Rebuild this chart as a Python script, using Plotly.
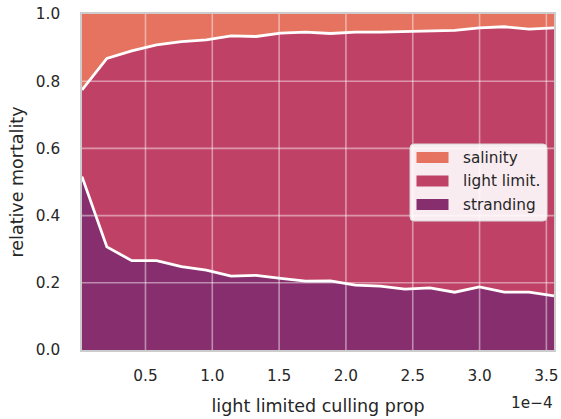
import numpy as np
import plotly.graph_objects as go

# x values in units of 1e-4
x_e4 = [0.025, 0.211, 0.397, 0.583, 0.769, 0.955, 1.141, 1.327, 1.512, 1.698,
        1.884, 2.070, 2.256, 2.442, 2.628, 2.814, 2.999, 3.185, 3.371, 3.557]

stranding = [0.516, 0.307, 0.266, 0.266, 0.248, 0.238, 0.220, 0.222, 0.213, 0.205,
             0.206, 0.193, 0.190, 0.181, 0.185, 0.172, 0.188, 0.172, 0.172, 0.161]
light_limit = [0.258, 0.561, 0.624, 0.642, 0.670, 0.685, 0.715, 0.711, 0.730, 0.741,
               0.736, 0.753, 0.756, 0.766, 0.763, 0.779, 0.771, 0.790, 0.783, 0.798]
salinity = [0.226, 0.132, 0.110, 0.092, 0.082, 0.077, 0.065, 0.067, 0.057, 0.054,
            0.058, 0.054, 0.054, 0.053, 0.052, 0.049, 0.041, 0.038, 0.045, 0.041]

series_names = ["stranding", "light limit.", "salinity"]
series_colors = ["rgb(135,47,110)", "rgb(192,65,102)", "rgb(229,115,96)"]

x_tick_vals = [0.5, 1.0, 1.5, 2.0, 2.5, 3.0, 3.5]
y_tick_vals = [0.0, 0.2, 0.4, 0.6, 0.8, 1.0]

FONT = "DejaVu Sans"
TXT = "#262626"

W, H = 561, 419
ML, MR, MT, MB = 82, 7, 14, 69
PW, PH = W - ML - MR, H - MT - MB


def px2x(px):
    return (px - ML) / PW


def px2y(py):
    return (H - MB - py) / PH


fig = go.Figure()
for name, vals, col in zip(series_names, [stranding, light_limit, salinity], series_colors):
    fig.add_trace(go.Scatter(
        x=x_e4, y=vals, name=name, stackgroup="one", mode="lines",
        line=dict(width=0, color=col), fillcolor=col, hoverinfo="skip",
        showlegend=False))

# white boundary lines between areas
cum1 = np.array(stranding)
cum2 = cum1 + np.array(light_limit)
for c in [cum1, cum2]:
    fig.add_trace(go.Scatter(x=x_e4, y=c, mode="lines", showlegend=False,
                             line=dict(color="white", width=2.8), hoverinfo="skip"))

shapes = []
grid_col = "rgba(255,255,255,0.45)"
for xv in x_tick_vals:
    shapes.append(dict(type="line", xref="x", yref="y", x0=xv, x1=xv, y0=0, y1=1,
                       line=dict(color=grid_col, width=1.6), layer="above"))
for yv in y_tick_vals[1:-1]:
    shapes.append(dict(type="line", xref="paper", yref="y", x0=0, x1=1, y0=yv, y1=yv,
                       line=dict(color=grid_col, width=1.6), layer="above"))

# legend (box with rounded corners, swatches, labels)
bx0, bx1, by0, by1, r = 410, 547, 144, 221, 4
X = lambda p: px2x(p)
Y = lambda p: px2y(p)
path = (f"M {X(bx0 + r)},{Y(by0)} L {X(bx1 - r)},{Y(by0)} Q {X(bx1)},{Y(by0)} {X(bx1)},{Y(by0 + r)} "
        f"L {X(bx1)},{Y(by1 - r)} Q {X(bx1)},{Y(by1)} {X(bx1 - r)},{Y(by1)} "
        f"L {X(bx0 + r)},{Y(by1)} Q {X(bx0)},{Y(by1)} {X(bx0)},{Y(by1 - r)} "
        f"L {X(bx0)},{Y(by0 + r)} Q {X(bx0)},{Y(by0)} {X(bx0 + r)},{Y(by0)} Z")
shapes.append(dict(type="path", xref="paper", yref="paper", path=path,
                   fillcolor="rgba(255,255,255,0.9)", line=dict(color="#d9d9d9", width=1),
                   layer="above"))

annotations = []
row_y = [157.5, 181, 204.5]
legend_order = [2, 1, 0]  # salinity, light limit., stranding
for ry, idx in zip(row_y, legend_order):
    shapes.append(dict(type="rect", xref="paper", yref="paper",
                       x0=X(416.5), x1=X(448.5), y0=Y(ry - 5.5), y1=Y(ry + 5.5),
                       fillcolor=series_colors[idx], line=dict(width=0), layer="above"))
    annotations.append(dict(text=series_names[idx], xref="paper", yref="paper",
                            x=X(460.5), y=Y(ry), xanchor="left", yanchor="middle",
                            showarrow=False,
                            font=dict(size=15.3, family=FONT, color=TXT)))

annotations.append(dict(text="1e\u22124", xref="paper", yref="paper", x=1.0 + 1 / PW, y=Y(403),
                        xanchor="right", yanchor="middle", showarrow=False,
                        font=dict(size=15.3, family=FONT, color=TXT)))

fig.update_layout(
    width=W, height=H,
    margin=dict(l=ML, r=MR, t=MT, b=MB),
    paper_bgcolor="white", plot_bgcolor="white",
    font=dict(family=FONT, color=TXT, size=15),
    shapes=shapes, annotations=annotations,
    showlegend=False,
)
fig.update_xaxes(range=[x_e4[0], x_e4[-1]], tickvals=x_tick_vals, tickformat=".1f",
                 showgrid=False, zeroline=False, showline=True, mirror=True,
                 linecolor="#cccccc", linewidth=1.5, ticks="", automargin=False,
                 ticklabelstandoff=11,
                 tickfont=dict(size=15.3, family=FONT, color=TXT),
                 title=dict(text="light limited culling prop", standoff=16,
                            font=dict(size=17.5, family=FONT, color=TXT)))
fig.update_yaxes(range=[0, 1], tickvals=y_tick_vals, tickformat=".1f",
                 showgrid=False, zeroline=False, showline=True, mirror=True,
                 linecolor="#cccccc", linewidth=1.5, ticks="", automargin=False,
                 ticklabelstandoff=17,
                 tickfont=dict(size=15.3, family=FONT, color=TXT),
                 title=dict(text="relative mortality", standoff=8,
                            font=dict(size=17.5, family=FONT, color=TXT)))

fig.write_html("out.html", config={"displayModeBar": False},
               post_script="document.body.style.margin='0';document.body.style.overflow='hidden';")
